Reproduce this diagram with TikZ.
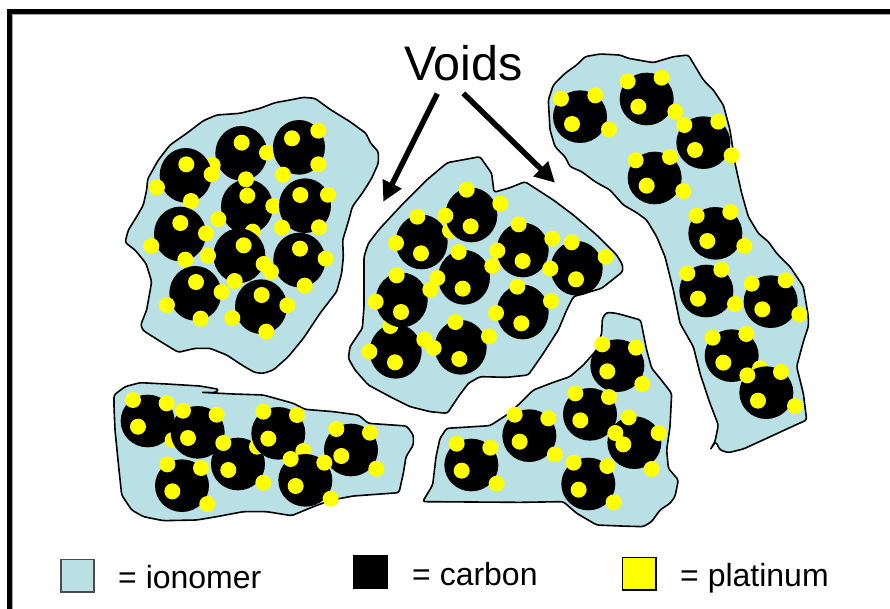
\documentclass[tikz,border=0pt]{standalone}
\usepackage{fontspec}
\setmainfont{Liberation Sans}
\usetikzlibrary{arrows.meta}
\definecolor{ionomer}{HTML}{B9E0E4}
\definecolor{platinum}{HTML}{FFFF00}
\tikzset{
  outline/.style={fill=ionomer,draw=black,line width=1.6pt,rounded corners=2.5pt,line join=round},
  legendtext/.style={anchor=base west,inner sep=0pt,font=\fontsize{32}{34}\selectfont},
  voidarrow/.style={line width=5.5pt,-{Triangle[length=20pt,width=20pt]}},
  swatch/.style={line width=1.2pt}
}
% One carbon grain carrying its platinum dots; radii in zoomed units
\newcommand{\carbongrain}[3][80]{%
  \fill[black] (#2) ellipse[x radius=#1,y radius=160-#1];
  \foreach \dotpos in {#3} \fill[platinum] \dotpos circle[radius=24];
}
\begin{document}
\begin{tikzpicture}[x=1pt,y=-1pt]
\useasboundingbox (0,0) rectangle (890,609);
\fill[white] (0,0) rectangle (890,609);

% Frame: top and left edges only, with a thin grey inner shadow
\draw[gray!70,line width=1pt] (890,14.5) -- (12.5,14.5) -- (12.5,609);
\draw[black,line width=5pt,line join=miter] (890,11.5) -- (9.5,11.5) -- (9.5,609);

% Agglomerate upper left
\begin{scope}[x=0.33333pt,y=-0.33333pt,xshift=100pt,yshift=-80pt]
\draw[outline] (143,297) -- (175,240) -- (210,195) -- (260,160) -- (310,122) -- (350,105) -- (420,100) -- (480,85) -- (525,68) -- (570,60) -- (610,52) -- (645,55) -- (690,88) -- (750,125) -- (798,160) -- (812,190) -- (835,215) -- (835,250) -- (815,295) -- (790,335) -- (757,380) -- (745,425) -- (728,480) -- (730,530) -- (725,580) -- (710,635) -- (660,700) -- (610,775) -- (565,830) -- (520,870) -- (490,880) -- (465,878) -- (430,858) -- (380,825) -- (330,805) -- (285,805) -- (235,817) -- (190,790) -- (130,752) -- (122,735) -- (140,690) -- (155,605) -- (138,550) -- (105,510) -- (75,487) -- (85,450) -- (110,410) -- (130,375) -- (140,330) -- cycle;
\carbongrain[78]{441,380}{(442,347),(520,378),(355,417),(458,455)}
\carbongrain[78]{418,527}{(431,496),(491,552),(324,527),(404,603)}
\carbongrain[78]{598,540}{(600,506),(677,536),(513,575),(614,617)}
\carbongrain[78]{424,220}{(425,188),(501,218),(338,255),(438,298)}
\carbongrain[78]{257,286}{(259,253),(335,283),(171,322),(273,363)}
\carbongrain[78]{597,202}{(576,175),(655,152),(655,253),(549,284)}
\carbongrain[78]{615,377}{(601,345),(684,344),(657,442),(546,443)}
\carbongrain[78]{240,462}{(241,429),(318,460),(154,498),(256,539)}
\carbongrain[78]{286,640}{(288,606),(365,636),(201,675),(302,716)}
\carbongrain[78]{483,680}{(485,645),(562,676),(397,714),(499,755)}
\end{scope}

% Agglomerate in the middle
\begin{scope}[x=0.33333pt,y=-0.33333pt,xshift=340pt,yshift=-140pt]
\draw[outline] (322,68) -- (420,50) -- (455,100) -- (462,157) -- (510,143) -- (555,125) -- (640,180) -- (700,225) -- (770,285) -- (830,345) -- (848,375) -- (848,395) -- (785,445) -- (700,470) -- (680,510) -- (655,570) -- (610,640) -- (565,705) -- (500,712) -- (420,710) -- (385,730) -- (355,770) -- (322,820) -- (270,815) -- (210,800) -- (150,770) -- (85,735) -- (45,690) -- (25,655) -- (30,620) -- (67,565) -- (72,500) -- (72,400) -- (72,350) -- (85,310) -- (120,265) -- (190,190) -- (260,120) -- cycle;
\carbongrain[78]{245,306}{(232,230),(168,309),(243,340),(330,272)}
\carbongrain[78]{394,225}{(380,149),(481,191),(316,227),(392,259)}
\carbongrain[78]{548,330}{(536,253),(637,296),(472,332),(548,363)}
\carbongrain[78]{710,385}{(695,307),(797,350),(631,386),(708,418)}
\carbongrain[78]{372,412}{(356,336),(457,378),(292,414),(368,446)}
\carbongrain[78]{548,516}{(532,440),(633,483),(468,519),(544,550)}
\carbongrain[78]{167,634}{(151,558),(253,599),(88,635),(165,667)}
\carbongrain[78]{185,480}{(170,406),(271,449),(107,485),(183,516)}
\carbongrain[78]{362,622}{(346,546),(447,589),(281,624),(358,657)}
\end{scope}

% Long agglomerate on the right
\begin{scope}[x=0.33333pt,y=-0.33333pt,xshift=540pt,yshift=-40pt]
\draw[outline] (110,75) -- (135,50) -- (180,42) -- (240,45) -- (265,55) -- (340,68) -- (400,50) -- (445,45) -- (490,120) -- (520,150) -- (550,195) -- (570,270) -- (585,370) -- (605,460) -- (625,530) -- (655,580) -- (685,605) -- (710,640) -- (750,680) -- (790,740) -- (805,830) -- (805,860) -- (790,905) -- (770,980) -- (790,1060) -- (800,1140) -- (760,1158) -- (680,1195) -- (610,1227) -- (565,1238) -- (540,1230) -- (527,1205) -- (510,1230) -- (525,1205) -- (535,1155) -- (510,1090) -- (480,1000) -- (460,920) -- (420,850) -- (400,750) -- (375,650) -- (350,590) -- (320,540) -- (290,518) -- (250,495) -- (210,450) -- (165,425) -- (125,395) -- (90,380) -- (75,350) -- (45,320) -- (30,270) -- (25,180) -- (40,135) -- (75,100) -- cycle;
\carbongrain[81]{120,230}{(63,176),(166,166),(96,252),(207,268)}
\carbongrain[81]{320,177}{(263,124),(365,113),(295,200),(406,215)}
\carbongrain[81]{490,308}{(433,255),(535,245),(465,330),(575,346)}
\carbongrain[81]{344,414}{(287,361),(390,351),(320,437),(430,453)}
\carbongrain[81]{526,580}{(470,527),(571,516),(502,603),(613,618)}
\carbongrain[81]{499,753}{(442,700),(544,689),(474,776),(585,792)}
\carbongrain[81]{692,785}{(635,731),(737,721),(667,808),(778,823)}
\carbongrain[81]{575,947}{(518,893),(619,882),(550,968),(660,985)}
\carbongrain[81]{679,1058}{(622,1006),(723,996),(654,1082),(765,1098)}
\end{scope}

% Agglomerate lower right
\begin{scope}[x=0.33333pt,y=-0.33333pt,xshift=420pt,yshift=-300pt]
\draw[outline] (8,605) -- (38,555) -- (48,470) -- (60,415) -- (80,385) -- (210,377) -- (260,345) -- (300,310) -- (340,270) -- (400,247) -- (450,230) -- (490,195) -- (530,150) -- (545,100) -- (547,55) -- (560,37) -- (590,40) -- (662,60) -- (680,150) -- (695,205) -- (720,235) -- (755,280) -- (750,380) -- (740,450) -- (745,505) -- (775,540) -- (765,590) -- (750,610) -- (720,630) -- (695,665) -- (670,680) -- (600,678) -- (530,675) -- (470,640) -- (430,605) -- (300,607) -- cycle;
\carbongrain[81]{154,495}{(110,431),(211,443),(125,512),(230,551)}
\carbongrain[81]{328,407}{(284,344),(385,355),(299,425),(405,463)}
\carbongrain[81]{592,197}{(547,133),(648,143),(562,214),(667,252)}
\carbongrain[81]{643,428}{(626,352),(716,399),(610,433),(695,507)}
\carbongrain[81]{510,343}{(466,280),(567,291),(481,361),(586,399)}
\carbongrain[81]{505,552}{(461,488),(562,498),(476,569),(581,607)}
\end{scope}

% Agglomerate lower left
\begin{scope}[x=0.33333pt,y=-0.33333pt,xshift=100pt,yshift=-370pt]
\draw[outline] (42,75) -- (75,50) -- (120,38) -- (200,42) -- (300,48) -- (357,58) -- (345,68) -- (303,67) -- (400,72) -- (490,75) -- (580,100) -- (615,118) -- (700,125) -- (775,135) -- (805,160) -- (920,168) -- (940,195) -- (940,225) -- (918,260) -- (910,310) -- (897,368) -- (760,378) -- (695,390) -- (640,410) -- (575,437) -- (500,425) -- (430,425) -- (350,440) -- (290,450) -- (190,452) -- (130,440) -- (95,420) -- (65,375) -- (55,280) -- (45,180) -- (42,110) -- cycle;
\carbongrain[81]{143,153}{(99,90),(200,100),(114,170),(218,210)}
\carbongrain[81]{293,187}{(249,122),(350,134),(264,204)}
\carbongrain[81]{414,282}{(370,219),(471,230),(385,300),(490,338)}
\carbongrain[81]{535,190}{(490,125),(591,135),(505,206),(610,243)}
\carbongrain[81]{753,240}{(709,177),(810,188),(724,258),(829,296)}
\carbongrain[81]{616,331}{(572,267),(673,278),(587,348),(692,386)}
\carbongrain[81]{246,347}{(202,283),(303,294),(217,364),(322,402)}
\end{scope}

% Title with its two arrows
\node[anchor=base west,inner sep=0pt,font=\fontsize{48.5}{50}\selectfont] (voids) at (404,81) {Voids};
\coordinate (leftfrom) at (437.3,93.7);
\coordinate (leftgap) at (383.3,201.7);
\coordinate (rightfrom) at (463.3,93.3);
\coordinate (rightgap) at (555,182.7);
\draw[voidarrow] (leftfrom) -- (leftgap);
\draw[voidarrow] (rightfrom) -- (rightgap);

% Legend
\draw[swatch,fill=ionomer,draw=black!70] (61,559.5) rectangle (94,592);
\node[legendtext] (ionomerlabel) at (118,588) {= ionomer};
\fill[black] (353,555) rectangle (388,589);
\node[legendtext] (carbonlabel) at (412,585) {= carbon};
\draw[swatch,fill=platinum,draw=black] (622.5,557.5) rectangle (656,590);
\node[legendtext] (platinumlabel) at (680,586) {= platinum};
\end{tikzpicture}
\end{document}
